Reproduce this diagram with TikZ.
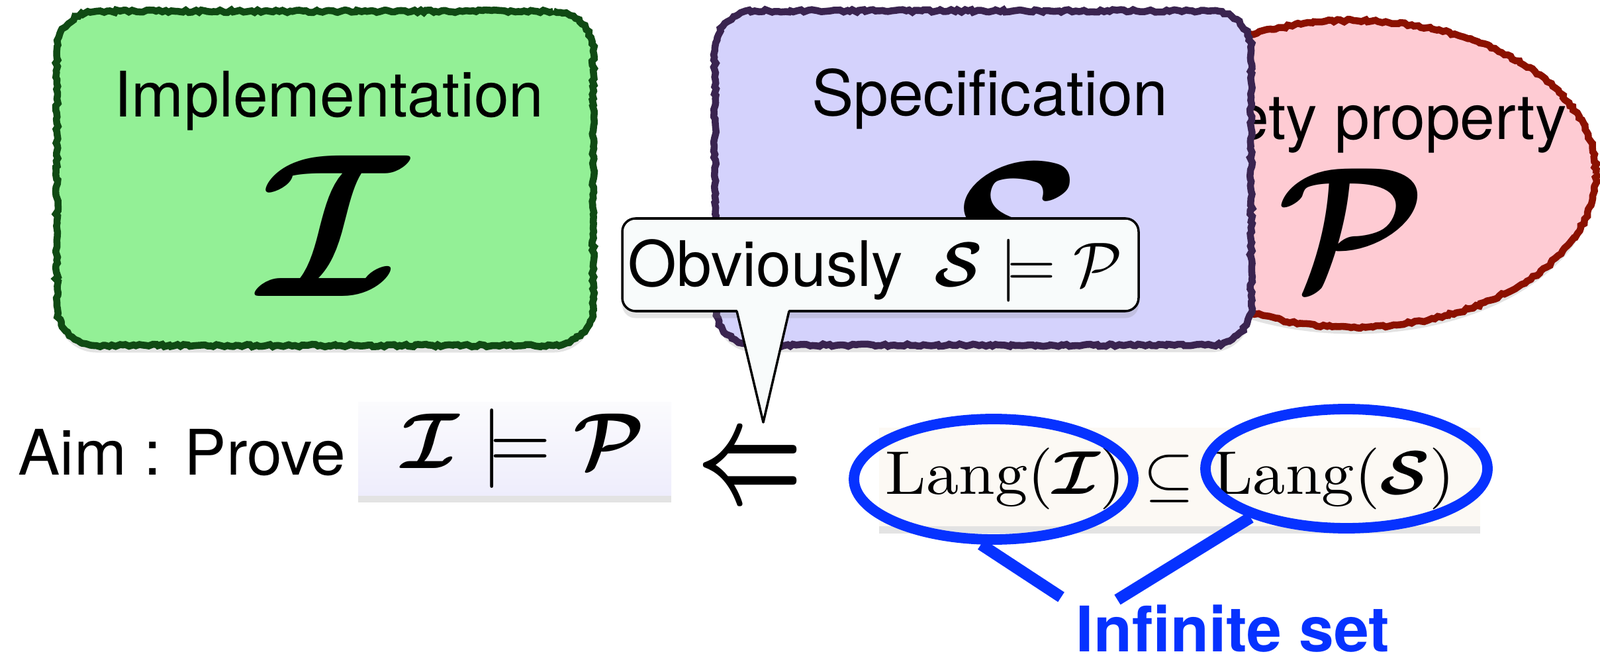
\documentclass[tikz,border=0pt]{standalone}
\usepackage{fontspec}
\usepackage{amsmath,bm}
\usepackage{graphicx}
\usetikzlibrary{positioning,shapes.geometric,shadows,decorations.pathmorphing}

\newfontfamily\helv{TeX Gyre Heros}

\definecolor{implfill}{RGB}{147,240,150}
\definecolor{impldraw}{RGB}{16,74,20}
\definecolor{specfill}{RGB}{212,210,252}
\definecolor{specdraw}{RGB}{58,36,80}
\definecolor{propfill}{RGB}{254,203,211}
\definecolor{propdraw}{RGB}{139,17,0}
\definecolor{calloutfill}{RGB}{248,251,251}
\definecolor{aimtop}{RGB}{251,251,253}
\definecolor{aimbot}{RGB}{238,237,252}
\definecolor{langfill}{RGB}{252,249,244}
\definecolor{infblue}{RGB}{6,50,255}

% math at 10pt, scaled up
\newcommand{\mth}[2]{\scalebox{#1}{\fontsize{10}{12}\selectfont$#2$}}

\tikzset{
  softshadow/.style={drop shadow={shadow xshift=0pt, shadow yshift=-3pt, opacity=0.22}},
  chalkedge/.style={postaction={draw=#1, line width=3pt, sharp corners, decorate,
      decoration={random steps, segment length=1.4pt, amplitude=0.55pt}}},
  bigbox/.style={rectangle, rounded corners=0.6cm, minimum width=8.1cm, minimum height=5.05cm, softshadow},
  title/.style={font=\helv\fontsize{27}{32}\selectfont, anchor=base, inner sep=0pt},
  bigsym/.style={inner sep=0pt},
  calloutbox/.style={rounded corners=0.2cm, draw=black, line width=1pt, fill=calloutfill, softshadow},
  blueloop/.style={ellipse, draw=infblue, line width=4.5pt, inner sep=0pt},
  infline/.style={draw=infblue, line width=5pt},
}

\begin{document}
\begin{tikzpicture}
\useasboundingbox (0,0) rectangle (24.17,9.90);

% property, partly behind the specification
\node[ellipse, fill=propfill, chalkedge=propdraw, softshadow, minimum width=7.32cm, minimum height=4.63cm] (prop) at (20.45,7.275) {};
\node[title] (proptitle) at (20.45,7.79) {Safety property};
\node[bigsym] (propsym) at (20.42,6.46) {\scalebox{7.1}[7.4]{\fontsize{10}{12}\selectfont$\bm{\mathcal P}$}};

% implementation and specification
\node[bigbox, fill=implfill, chalkedge=impldraw] (impl) at (4.91,7.205) {};
\node[title] (impltitle) at (4.97,8.13) {Implementation};
\node[bigsym] (implsym) at (5.03,6.49) {\mth{8.8}{\bm{\mathcal I}}};

\node[bigbox, fill=specfill, chalkedge=specdraw] (spec) at (14.85,7.21) {};
\node[title] (spectitle) at (14.95,8.15) {Specification};
\node[bigsym] (specsym) at (15.12,6.36) {\mth{8.8}{\bm{\mathcal S}}};

% callout
\path[calloutbox] (9.40,5.20) coordinate (obvsw) rectangle (17.20,6.60) coordinate (obvne);
\coordinate (obvtip) at (11.53,3.52);
\fill[calloutfill] ([xshift=1.73cm,yshift=1.2pt]obvsw) -- (obvtip) -- ([xshift=2.52cm,yshift=1.2pt]obvsw) -- cycle;
\draw[line width=1pt, line join=round] ([xshift=1.73cm]obvsw) -- (obvtip) -- ([xshift=2.52cm]obvsw);
\node[title, anchor=base west] (obvtext) at (9.48,5.57) {Obviously\enspace\mth{2.7}{\bm{\mathcal S}\models\mathcal P}};

% aim
\node[title, anchor=base west] (aim) at (0.27,2.73) {Aim : Prove};
\node[top color=aimtop, bottom color=aimbot, softshadow, minimum width=4.73cm, minimum height=1.40cm, inner sep=0pt] (goal) at (7.775,3.12) {};
\node[inner sep=0pt] (goalexpr) at (7.90,3.12) {\mth{3.41}{\bm{\mathcal I}\models\bm{\mathcal P}}};
\node[inner sep=0pt] (impliedby) at (11.33,2.76) {\scalebox{3.94}[6.0]{\fontsize{10}{12}\selectfont$\bm{\Leftarrow}$}};

% languages
\node[fill=langfill, softshadow, minimum width=9.08cm, minimum height=1.49cm, inner sep=0pt] (langbox) at (17.82,2.695) {};
\node[inner sep=0pt] (langexpr) at (17.68,2.67) {\scalebox{2.8}[2.65]{\fontsize{10}{12}\selectfont$\mathrm{Lang}(\bm{\mathcal I})\subseteq\mathrm{Lang}(\bm{\mathcal S})$}};
\node[blueloop, minimum width=4.22cm, minimum height=1.82cm] (langI) at (15.01,2.66) {};
\node[blueloop, minimum width=4.26cm, minimum height=1.80cm] (langS) at (20.34,2.82) {};

\node[title, anchor=base west, font=\helv\bfseries\fontsize{27}{32}\selectfont, text=infblue] (infset) at (16.25,0.06) {Infinite set};
\coordinate (infL) at (16.03,0.88);
\coordinate (infR) at (16.88,0.84);
\draw[infline] (langI.259) -- (infL);
\draw[infline] (langS.207) -- (infR);

\end{tikzpicture}
\end{document}
